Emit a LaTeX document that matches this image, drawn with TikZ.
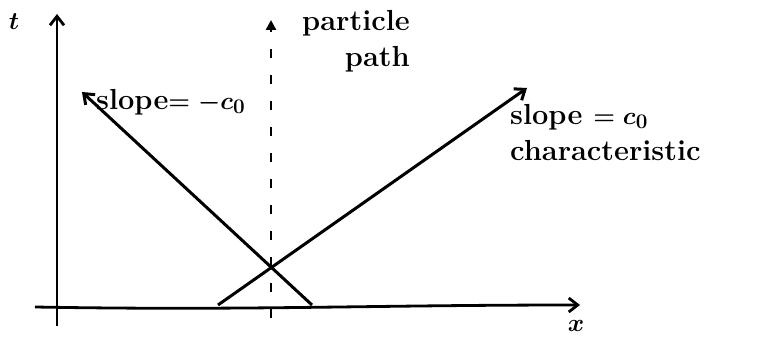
\documentclass[tikz,border=0pt]{standalone}
\usepackage{amsmath}
\usetikzlibrary{arrows.meta}

\begin{document}
\begin{tikzpicture}[x=1pt, y=-1pt, >={Straight Barb[length=9pt,width=14pt]}, axis/.style={line width=2.8pt, ->}, charline/.style={line width=3pt, ->}, pathline/.style={line width=2.8pt, dash pattern=on 9pt off 17pt, -{Triangle[length=10pt,width=10pt]}}, lab/.style={font=\fontsize{29}{36}\selectfont\bfseries\boldmath, inner sep=0pt}]

\useasboundingbox (0,0) rectangle (784,339);

\coordinate (tbot) at (57,326);
\coordinate (ttop) at (57,14);
\coordinate (xbot) at (35,307);
\coordinate (xtop) at (580,305);
\coordinate (cstart) at (218,305);
\coordinate (cend) at (527,88);
\coordinate (mstart) at (312,305);
\coordinate (mend) at (82,92);
\coordinate (pbot) at (271,318);
\coordinate (ptop) at (271,20);

\node[lab] (tlab) at (14,22) {$t$};
\node[lab] (xlab) at (576,326) {$x$};
\node[lab, anchor=north east, align=right] (pplab) at (410,10) {particle\\path};
\node[lab, anchor=west] (mlab) at (96,102) {slope$=-c_0$};
\node[lab, anchor=north west, align=left] (clab) at (510,104) {slope $= c_0$\\characteristic};

\draw[axis] (tbot) -- (ttop);
\draw[axis] (xbot) to[out=-1,in=180] (xtop);
\draw[charline] (cstart) -- (cend);
\draw[charline] (mstart) -- (mend);
\draw[pathline] (pbot) -- (ptop);
\end{tikzpicture}
\end{document}
